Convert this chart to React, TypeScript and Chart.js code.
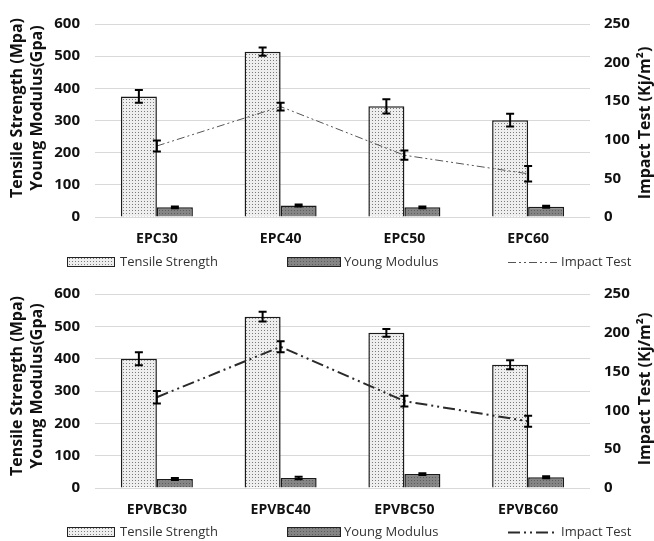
import React, { useEffect, useRef } from 'react';
import { Chart, registerables } from 'chart.js';
Chart.register(...registerables);

// ---------- data ----------
const topCategories = ['EPC30', 'EPC40', 'EPC50', 'EPC60'];
const topTensile = [375, 514, 344, 301];
const topTensileErr = [20, 13, 22, 20];
const topYoung = [30, 36, 30, 32];
const topYoungErr = [3, 3, 3, 3];
const topImpact = [92, 143, 80, 56];
const topImpactErr = [7, 5, 6, 10];

const bottomCategories = ['EPVBC30', 'EPVBC40', 'EPVBC50', 'EPVBC60'];
const bottomTensile = [400, 530, 480, 381];
const bottomTensileErr = [20, 15, 12, 14];
const bottomYoung = [28, 31, 43, 33];
const bottomYoungErr = [3, 4, 3, 3];
const bottomImpact = [117, 182, 112, 86];
const bottomImpactErr = [8, 7, 7, 7];

const leftTickMax = 600;
const leftTickStep = 100;
const rightTickMax = 250;
const rightTickStep = 50;

const legendLabels = ['Tensile Strength', 'Young Modulus', 'Impact Test'];
const leftTitleLines = ['Tensile Strength (Mpa)', 'Young Modulus(Gpa)'];
const rightTitle = 'Impact Test (Kj/m\u00B2)';

const FONT = '"Open Sans", "Liberation Sans", sans-serif';

function makePattern(ctx: CanvasRenderingContext2D, bg: string, dot: string, size: number) {
  const c = document.createElement('canvas');
  c.width = size;
  c.height = size;
  const g = c.getContext('2d')!;
  g.fillStyle = bg;
  g.fillRect(0, 0, size, size);
  g.fillStyle = dot;
  g.fillRect(0, 0, 1, 1);
  return ctx.createPattern(c, 'repeat')!;
}

type Props = {
  height: number;
  categories: string[];
  tensile: number[];
  tensileErr: number[];
  young: number[];
  youngErr: number[];
  impact: number[];
  impactErr: number[];
  chartTop: number;
  chartBottom: number;
  legendY: number;
  leftTitleY: number;
  rightTitleY: number;
  lineWidth: number;
  lineColor: string;
  dash: number[];
};

const X_HEIGHT = 40;

const decorPlugin = {
  id: 'decor',
  afterDatasetsDraw(chart: any) {
    const ctx: CanvasRenderingContext2D = chart.ctx;
    chart.data.datasets.forEach((ds: any, di: number) => {
      const errs = ds.errors;
      if (!errs) return;
      const meta = chart.getDatasetMeta(di);
      const scale = chart.scales[ds.yAxisID];
      meta.data.forEach((el: any, i: number) => {
        const v = ds.data[i];
        const e = errs[i];
        const x = el.x;
        const y1 = scale.getPixelForValue(v + e);
        const y2 = scale.getPixelForValue(v - e);
        ctx.save();
        ctx.strokeStyle = '#000';
        ctx.lineWidth = 2;
        ctx.setLineDash([]);
        ctx.beginPath();
        ctx.moveTo(x, y1);
        ctx.lineTo(x, y2);
        ctx.moveTo(x - 4, y1);
        ctx.lineTo(x + 4, y1);
        ctx.moveTo(x - 4, y2);
        ctx.lineTo(x + 4, y2);
        ctx.stroke();
        ctx.restore();
      });
    });
  },
  afterDraw(chart: any, _args: any, opts: any) {
    const ctx: CanvasRenderingContext2D = chart.ctx;
    ctx.save();
    // axis titles
    ctx.fillStyle = '#111';
    ctx.font = `bold 16px ${FONT}`;
    ctx.textAlign = 'center';
    ctx.textBaseline = 'middle';
    leftTitleLines.forEach((t, i) => {
      ctx.save();
      ctx.translate(17 + i * 20, opts.leftTitleY);
      ctx.rotate(-Math.PI / 2);
      ctx.fillText(t, 0, 0);
      ctx.restore();
    });
    ctx.save();
    ctx.translate(645, opts.rightTitleY);
    ctx.rotate(-Math.PI / 2);
    ctx.fillText(rightTitle, 0, 0);
    ctx.restore();

    // legend
    const y = opts.legendY;
    ctx.font = `13px ${FONT}`;
    ctx.textAlign = 'left';
    const ds = chart.data.datasets;
    ctx.fillStyle = ds[1].backgroundColor;
    ctx.fillRect(67, y - 4.5, 48, 9);
    ctx.strokeStyle = '#222';
    ctx.lineWidth = 1;
    ctx.strokeRect(67.5, y - 4.5, 47, 9);
    ctx.fillStyle = '#333';
    ctx.fillText(legendLabels[0], 120, y);
    ctx.fillStyle = ds[2].backgroundColor;
    ctx.fillRect(287, y - 4.5, 54, 9);
    ctx.strokeRect(287.5, y - 4.5, 53, 9);
    ctx.fillStyle = '#333';
    ctx.fillText(legendLabels[1], 344, y);
    ctx.strokeStyle = opts.lineColor;
    ctx.lineWidth = opts.lineWidth;
    ctx.setLineDash(opts.dash);
    ctx.beginPath();
    ctx.moveTo(508, y + 0.5);
    ctx.lineTo(557, y + 0.5);
    ctx.stroke();
    ctx.setLineDash([]);
    ctx.fillStyle = '#333';
    ctx.fillText(legendLabels[2], 561, y);
    ctx.restore();
  },
};

function ComboChart(p: Props) {
  const ref = useRef<HTMLCanvasElement | null>(null);
  useEffect(() => {
    const canvas = ref.current!;
    const ctx = canvas.getContext('2d')!;
    const tensilePattern = makePattern(ctx, '#eeeeee', '#7a7a7a', 3);
    const youngPattern = makePattern(ctx, '#858585', '#5c5c5c', 3);
    const chart = new Chart(canvas, {
      type: 'bar',
      data: {
        labels: p.categories,
        datasets: [
          {
            type: 'line',
            label: legendLabels[2],
            data: p.impact,
            errors: p.impactErr,
            yAxisID: 'y1',
            borderColor: p.lineColor,
            borderWidth: p.lineWidth,
            borderDash: p.dash,
            pointRadius: 0,
            fill: false,
            tension: 0,
            order: 0,
          } as any,
          {
            type: 'bar',
            label: legendLabels[0],
            data: p.tensile,
            errors: p.tensileErr,
            yAxisID: 'y',
            backgroundColor: tensilePattern,
            borderColor: '#1a1a1a',
            borderWidth: 1.5,
            categoryPercentage: 0.582,
            barPercentage: 1,
            order: 1,
          } as any,
          {
            type: 'bar',
            label: legendLabels[1],
            data: p.young,
            errors: p.youngErr,
            yAxisID: 'y',
            backgroundColor: youngPattern,
            borderColor: '#1a1a1a',
            borderWidth: 1.5,
            categoryPercentage: 0.582,
            barPercentage: 1,
            order: 1,
          } as any,
        ],
      },
      options: {
        animation: false,
        responsive: false,
        layout: { padding: { top: p.chartTop, bottom: p.height - p.chartBottom - X_HEIGHT, left: 0, right: 0 } },
        plugins: {
          legend: { display: false },
          tooltip: { enabled: false },
          decor: {
            legendY: p.legendY,
            leftTitleY: p.leftTitleY,
            rightTitleY: p.rightTitleY,
            lineColor: p.lineColor,
            lineWidth: p.lineWidth,
            dash: p.dash,
          },
        } as any,
        scales: {
          x: {
            grid: { display: false, drawTicks: false },
            border: { display: false },
            ticks: { color: '#111', font: { family: FONT, size: 14, weight: 'bold' }, padding: 14 },
            afterFit: (s: any) => { s.height = X_HEIGHT; },
          },
          y: {
            position: 'left',
            min: 0,
            max: leftTickMax,
            ticks: { stepSize: leftTickStep, color: '#111', font: { family: FONT, size: 15, weight: 'bold' }, padding: 15 },
            grid: { color: '#d9d9d9', lineWidth: 1, drawTicks: false },
            border: { display: false },
            afterFit: (s: any) => { s.width = 95; },
          },
          y1: {
            position: 'right',
            min: 0,
            max: rightTickMax,
            ticks: { stepSize: rightTickStep, color: '#111', font: { family: FONT, size: 15, weight: 'bold' }, padding: 14 },
            grid: { drawOnChartArea: false, drawTicks: false },
            border: { display: false },
            afterFit: (s: any) => { s.width = 64; },
          },
        } as any,
      },
      plugins: [decorPlugin as any],
    });
    return () => chart.destroy();
  }, []);
  return (
    <div style={{ width: 654, height: p.height }}>
      <canvas ref={ref} width={654} height={p.height} style={{ display: 'block', width: 654, height: p.height }} />
    </div>
  );
}

export default function App() {
  return (
    <div style={{ position: 'absolute', left: 0, top: 0, width: 654, height: 541, background: '#fff' }}>
      <ComboChart
        height={270}
        categories={topCategories}
        tensile={topTensile}
        tensileErr={topTensileErr}
        young={topYoung}
        youngErr={topYoungErr}
        impact={topImpact}
        impactErr={topImpactErr}
        chartTop={20}
        chartBottom={217}
        legendY={262}
        leftTitleY={108}
        rightTitleY={123}
        lineWidth={1}
        lineColor="#555"
        dash={[8, 3, 2, 3, 2, 3]}
      />
      <ComboChart
        height={271}
        categories={bottomCategories}
        tensile={bottomTensile}
        tensileErr={bottomTensileErr}
        young={bottomYoung}
        youngErr={bottomYoungErr}
        impact={bottomImpact}
        impactErr={bottomImpactErr}
        chartTop={23}
        chartBottom={218}
        legendY={262}
        leftTitleY={116}
        rightTitleY={119}
        lineWidth={2}
        lineColor="#2a2a2a"
        dash={[12, 4, 2, 4, 2, 4]}
      />
    </div>
  );
}
